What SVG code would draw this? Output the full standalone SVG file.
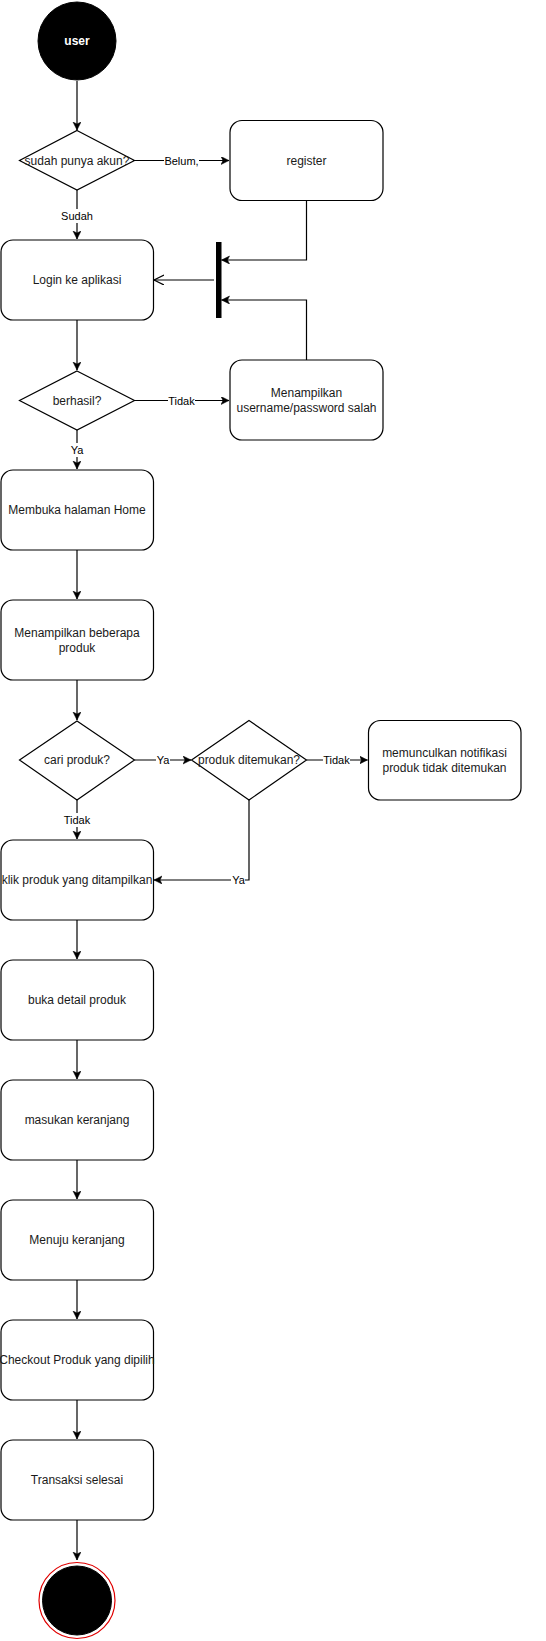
<svg xmlns="http://www.w3.org/2000/svg" width="546" height="1641" viewBox="0 0 546 1641">
<style>
.box{fill:#fff;stroke:#000;stroke-width:1.2}
.dia{fill:#fff;stroke:#000;stroke-width:1.2}
.t{font-family:"Liberation Sans",Arial,sans-serif;font-size:12px;fill:#1a1a1a;text-anchor:middle}
.lbl{font-family:"Liberation Sans",Arial,sans-serif;font-size:11px;fill:#000;text-anchor:middle}
.lblbg{fill:#fff}
.e{fill:none;stroke:#000;stroke-width:1.2}
</style>
<defs>
<marker id="arr" markerUnits="userSpaceOnUse" markerWidth="10" markerHeight="10" refX="8" refY="4" orient="auto">
<path d="M0,0 L8,4 L0,8 L2,4 Z" fill="#000" stroke="#000" stroke-width="0.5"/>
</marker>
<marker id="open" markerUnits="userSpaceOnUse" markerWidth="12" markerHeight="12" refX="10" refY="5" orient="auto">
<path d="M0,0 L10,5 L0,10" fill="none" stroke="#000" stroke-width="1.2"/>
</marker>
</defs>
<rect x="0" y="0" width="546" height="1641" fill="#fff"/>

<g id="connectors">
<path class="e" d="M77,81 V130" marker-end="url(#arr)"/>
<path class="e" d="M134.5,160.5 H229" marker-end="url(#arr)"/>
<path class="e" d="M77,190 V239" marker-end="url(#arr)"/>
<path class="e" d="M306.5,200.5 V260 H221.5" marker-end="url(#arr)"/>
<path class="e" d="M306.5,360 V300 H221.5" marker-end="url(#arr)"/>
<path class="e" d="M214,280 H154" marker-end="url(#open)"/>
<path class="e" d="M77,320 V370" marker-end="url(#arr)"/>
<path class="e" d="M134.5,400.5 H229" marker-end="url(#arr)"/>
<path class="e" d="M77,430 V469" marker-end="url(#arr)"/>
<path class="e" d="M77,550 V599" marker-end="url(#arr)"/>
<path class="e" d="M77,680 V720" marker-end="url(#arr)"/>
<path class="e" d="M134.5,760 H191" marker-end="url(#arr)"/>
<path class="e" d="M306.5,760 H367.5" marker-end="url(#arr)"/>
<path class="e" d="M77,800 V839" marker-end="url(#arr)"/>
<path class="e" d="M249,800 V880 H154" marker-end="url(#arr)"/>
<path class="e" d="M77,920 V959" marker-end="url(#arr)"/>
<path class="e" d="M77,1040 V1079" marker-end="url(#arr)"/>
<path class="e" d="M77,1160 V1199" marker-end="url(#arr)"/>
<path class="e" d="M77,1280 V1319" marker-end="url(#arr)"/>
<path class="e" d="M77,1400 V1439" marker-end="url(#arr)"/>
<path class="e" d="M77,1520 V1560" marker-end="url(#arr)"/>

<rect class="lblbg" x="164" y="153" width="35" height="14"/>
<text class="lbl" x="181.5" y="164.5">Belum,</text>
<rect class="lblbg" x="61" y="209" width="32" height="14"/>
<text class="lbl" x="77" y="220">Sudah</text>
<rect class="lblbg" x="168" y="393" width="27" height="14"/>
<text class="lbl" x="181.5" y="404.5">Tidak</text>
<rect class="lblbg" x="70" y="443" width="14" height="14"/>
<text class="lbl" x="77" y="454">Ya</text>
<rect class="lblbg" x="156" y="753" width="14" height="14"/>
<text class="lbl" x="163" y="764">Ya</text>
<rect class="lblbg" x="323" y="753" width="27" height="14"/>
<text class="lbl" x="336.5" y="764">Tidak</text>
<rect class="lblbg" x="63.5" y="813" width="27" height="14"/>
<text class="lbl" x="77" y="824">Tidak</text>
<rect class="lblbg" x="231" y="873" width="14" height="14"/>
<text class="lbl" x="238.5" y="884">Ya</text>
</g>

<g id="start">
<circle cx="77" cy="41" r="39" fill="#000" stroke="#000"/>
<text class="t" x="77" y="45" style="fill:#fff;font-weight:bold">user</text>
</g>
<g id="d-akun">
<polygon class="dia" points="77,130.5 134.5,160.5 77,190 19.5,160.5"/>
<text class="t" x="77" y="164.5">sudah punya akun?</text>
</g>
<g id="register">
<rect class="box" x="230" y="120.5" width="153" height="80" rx="12"/>
<text class="t" x="306.5" y="164.5">register</text>
</g>
<g id="bar">
<rect x="216" y="242" width="5.5" height="76" fill="#000"/>
</g>
<g id="login">
<rect class="box" x="1" y="240" width="152.5" height="80" rx="12"/>
<text class="t" x="77" y="284">Login ke aplikasi</text>
</g>
<g id="d-berhasil">
<polygon class="dia" points="77,371 134.5,400.5 77,430 19.5,400.5"/>
<text class="t" x="77" y="404.5">berhasil?</text>
</g>
<g id="salah">
<rect class="box" x="230" y="360" width="153" height="80" rx="12"/>
<text class="t" x="306.5" y="396.5">Menampilkan</text>
<text class="t" x="306.5" y="411.5">username/password salah</text>
</g>
<g id="home">
<rect class="box" x="1" y="470" width="152.5" height="80" rx="12"/>
<text class="t" x="77" y="514">Membuka halaman Home</text>
</g>
<g id="produk">
<rect class="box" x="1" y="600" width="152.5" height="80" rx="12"/>
<text class="t" x="77" y="636.5">Menampilkan beberapa</text>
<text class="t" x="77" y="651.5">produk</text>
</g>
<g id="d-cari">
<polygon class="dia" points="77,721 134.5,760 77,800 19.5,760"/>
<text class="t" x="77" y="764">cari produk?</text>
</g>
<g id="d-ditemukan">
<polygon class="dia" points="249,720.5 306.5,760 249,800 191.5,760"/>
<text class="t" x="249" y="764">produk ditemukan?</text>
</g>
<g id="notif">
<rect class="box" x="368.5" y="720.5" width="152.5" height="79.5" rx="12"/>
<text class="t" x="444.5" y="756.5">memunculkan notifikasi</text>
<text class="t" x="444.5" y="771.5">produk tidak ditemukan</text>
</g>
<g id="klik">
<rect class="box" x="1" y="840" width="152.5" height="80" rx="12"/>
<text class="t" x="77" y="884">klik produk yang ditampilkan</text>
</g>
<g id="detail">
<rect class="box" x="1" y="960" width="152.5" height="80" rx="12"/>
<text class="t" x="77" y="1004">buka detail produk</text>
</g>
<g id="masukan">
<rect class="box" x="1" y="1080" width="152.5" height="80" rx="12"/>
<text class="t" x="77" y="1124">masukan keranjang</text>
</g>
<g id="menuju">
<rect class="box" x="1" y="1200" width="152.5" height="80" rx="12"/>
<text class="t" x="77" y="1244">Menuju keranjang</text>
</g>
<g id="checkout">
<rect class="box" x="1" y="1320" width="152.5" height="80" rx="12"/>
<text class="t" x="77" y="1364">Checkout Produk yang dipilih</text>
</g>
<g id="transaksi">
<rect class="box" x="1" y="1440" width="152.5" height="80" rx="12"/>
<text class="t" x="77" y="1484">Transaksi selesai</text>
</g>
<g id="end">
<circle cx="77" cy="1600.5" r="38" fill="#fff" stroke="#e00000" stroke-width="1.2"/>
<circle cx="77" cy="1600.5" r="34.5" fill="#000" stroke="#000"/>
</g>
</svg>
